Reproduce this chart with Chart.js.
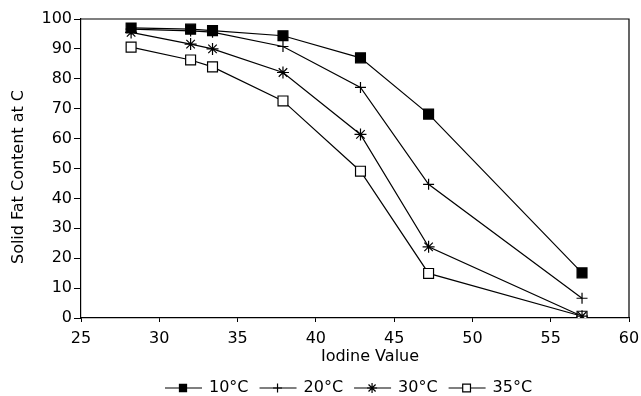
<!DOCTYPE html>
<html><head><meta charset="utf-8">
<script src="https://cdn.jsdelivr.net/npm/chart.js@4/dist/chart.umd.min.js"></script>
<style>html,body{margin:0;padding:0;background:#fff;}canvas{display:block;}</style>
</head><body>
<canvas id="c" width="641" height="396"></canvas>
<script>
// ---- data ----
const iodineValues = [28.2, 32.0, 33.4, 37.9, 42.85, 47.2, 57.0];
const seriesLabels = ['10°C', '20°C', '30°C', '35°C'];
const sfc10 = [97.0, 96.6, 96.1, 94.4, 87.0, 68.2, 15.1];
const sfc20 = [96.6, 96.0, 95.6, 90.8, 77.1, 44.7, 6.6];
const sfc30 = [95.5, 91.6, 90.0, 82.1, 61.4, 23.8, 0.6];
const sfc35 = [90.6, 86.3, 84.0, 72.6, 49.1, 14.9, 0.6];
const xTickValues = [25, 30, 35, 40, 45, 50, 55, 60];
const yTickValues = [0, 10, 20, 30, 40, 50, 60, 70, 80, 90, 100];
const xTitle = 'Iodine Value';
const yTitle = 'Solid Fat Content at C';

const seriesValues = [sfc10, sfc20, sfc30, sfc35];
const markerStyles = [
  {pointStyle: 'rect', radius: 7, fill: '#000', legendR: 5},
  {pointStyle: 'cross', radius: 5.5, fill: '#fff', legendR: 4.5},
  {pointStyle: 'star', radius: 6, fill: '#fff', legendR: 5},
  {pointStyle: 'rect', radius: 7, fill: '#fff', legendR: 5.5}
];

const FONT = '"DejaVu Sans", "Liberation Sans", sans-serif';
Chart.defaults.color = '#000';
Chart.defaults.font.family = FONT;

const datasets = seriesLabels.map((lab, i) => ({
  label: lab,
  data: iodineValues.map((x, j) => ({x: x, y: seriesValues[i][j]})),
  borderColor: '#000',
  borderWidth: 1.2,
  backgroundColor: markerStyles[i].fill,
  pointBackgroundColor: markerStyles[i].fill,
  pointBorderColor: '#000',
  pointBorderWidth: 1.2,
  pointStyle: markerStyles[i].pointStyle,
  pointRadius: markerStyles[i].radius,
  fill: false,
  tension: 0
}));

function drawMarker(ctx, style, r, fill, x, y) {
  ctx.save();
  ctx.strokeStyle = '#000';
  ctx.lineWidth = 1.2;
  ctx.fillStyle = fill;
  ctx.beginPath();
  if (style === 'rect') {
    const s = r / Math.SQRT2;
    ctx.rect(x - s, y - s, 2 * s, 2 * s);
    ctx.fill(); ctx.stroke();
  } else if (style === 'cross') {
    ctx.moveTo(x - r, y); ctx.lineTo(x + r, y);
    ctx.moveTo(x, y - r); ctx.lineTo(x, y + r);
    ctx.stroke();
  } else if (style === 'star') {
    ctx.moveTo(x - r, y); ctx.lineTo(x + r, y);
    ctx.moveTo(x, y - r); ctx.lineTo(x, y + r);
    const d = r * Math.SQRT1_2;
    ctx.moveTo(x - d, y - d); ctx.lineTo(x + d, y + d);
    ctx.moveTo(x - d, y + d); ctx.lineTo(x + d, y - d);
    ctx.stroke();
  }
  ctx.restore();
}

const framePlugin = {
  id: 'frame',
  afterDraw(chart) {
    const {ctx, chartArea: a} = chart;
    ctx.save();
    ctx.strokeStyle = '#000';
    ctx.lineWidth = 1.2;
    ctx.beginPath();
    ctx.moveTo(a.left, a.top); ctx.lineTo(a.right, a.top); ctx.lineTo(a.right, a.bottom);
    ctx.stroke();
    // axis titles
    ctx.fillStyle = '#000';
    ctx.font = '16px ' + FONT;
    ctx.textAlign = 'center';
    ctx.textBaseline = 'middle';
    ctx.fillText(xTitle, 370, 357);
    ctx.save();
    ctx.translate(19, 177);
    ctx.rotate(-Math.PI / 2);
    ctx.fillText(yTitle, 0, 0);
    ctx.restore();
    ctx.restore();
    // legend: line with marker, then label
    const y = 388;
    let x = 165;
    ctx.save();
    ctx.font = '16px ' + FONT;
    ctx.textBaseline = 'middle';
    ctx.textAlign = 'left';
    ctx.fillStyle = '#000';
    chart.data.datasets.forEach((ds, i) => {
      ctx.strokeStyle = '#000';
      ctx.lineWidth = 1.2;
      ctx.beginPath();
      ctx.moveTo(x, y); ctx.lineTo(x + 37, y);
      ctx.stroke();
      drawMarker(ctx, ds.pointStyle, markerStyles[i].legendR, ds.pointBackgroundColor, x + 18, y);
      ctx.fillText(ds.label, x + 44, y);
      x += 44 + ctx.measureText(ds.label).width + 11;
    });
    ctx.restore();
  }
};

new Chart(document.getElementById('c'), {
  type: 'line',
  data: {datasets: datasets},
  plugins: [framePlugin],
  options: {
    responsive: false,
    animation: false,
    layout: {padding: {left: 12, top: 19, right: 12, bottom: 33}},
    plugins: {legend: {display: false}, tooltip: {enabled: false}},
    scales: {
      x: {
        type: 'linear',
        min: 25, max: 60,
        afterBuildTicks: s => { s.ticks = xTickValues.map(v => ({value: v})); },
        afterFit: s => { s.height = 45; s.paddingLeft = 0; s.paddingRight = 0; },
        ticks: {font: {size: 16}, padding: 7, maxRotation: 0, autoSkip: false},
        grid: {display: true, drawOnChartArea: false, drawTicks: true, tickLength: 4, color: '#000', lineWidth: 1},
        border: {display: true, color: '#000', width: 1.2}
      },
      y: {
        min: 0, max: 100,
        afterBuildTicks: s => { s.ticks = yTickValues.map(v => ({value: v})); },
        afterFit: s => { s.width = 69; s.paddingTop = 0; s.paddingBottom = 0; },
        ticks: {font: {size: 16}, padding: 2},
        grid: {display: true, drawOnChartArea: false, drawTicks: true, tickLength: 7, color: '#000', lineWidth: 1},
        border: {display: true, color: '#000', width: 1.2}
      }
    }
  }
});
</script>
</body></html>
